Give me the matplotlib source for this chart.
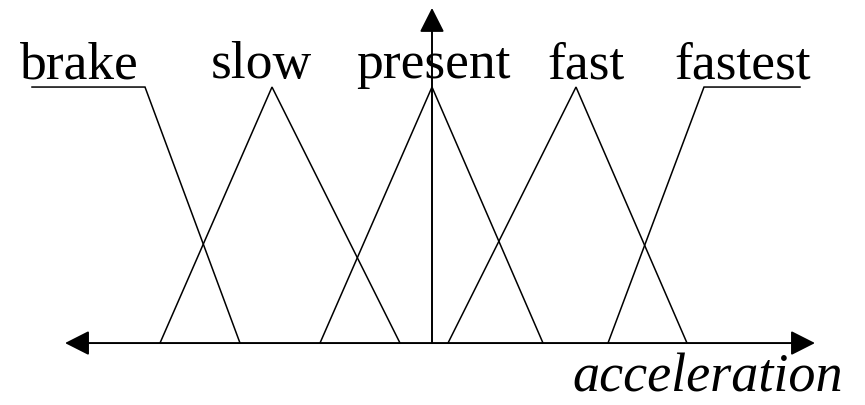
"""Funções de pertinência (fuzzy) da aceleração: brake, slow, present, fast, fastest."""

import matplotlib
matplotlib.use("Agg")
import matplotlib.pyplot as plt
from matplotlib.patches import FancyArrowPatch

plt.rcParams["font.family"] = ["Liberation Serif", "DejaVu Serif"]

# conjuntos fuzzy: pontos de quebra no eixo da aceleração e graus de pertinência
rotulos = ["brake", "slow", "present", "fast", "fastest"]
pontos_x = [
    [-400, -287, -192],
    [-272, -160, -32],
    [-112, 0, 111],
    [16, 144, 255],
    [176, 272, 368],
]
pontos_y = [
    [1, 1, 0],
    [0, 1, 0],
    [0, 1, 0],
    [0, 1, 0],
    [0, 1, 1],
]
pos_rotulos = [-353, -171, 1, 154, 311]

fig = plt.figure(figsize=(8.65, 4.05), dpi=100)
ax = fig.add_axes([0, 0, 1, 1])
ax.set_xlim(-432, 433)
ax.set_ylim(-0.242, 1.340)
ax.axis("off")

for xs, ys in zip(pontos_x, pontos_y):
    ax.plot(xs, ys, color="black", lw=1.1, solid_joinstyle="miter")

for nome, xr in zip(rotulos, pos_rotulos):
    ax.text(xr, 1.035, nome, ha="center", va="baseline", fontsize=38.5)

# eixos com setas
seta_x = FancyArrowPatch((-367, 0), (383, 0), arrowstyle="<|-|>,head_length=0.75,head_width=0.38",
                         mutation_scale=20, lw=1.4, color="black", shrinkA=0, shrinkB=0)
seta_y = FancyArrowPatch((0, 0), (0, 1.309), arrowstyle="-|>,head_length=0.75,head_width=0.38",
                         mutation_scale=20, lw=1.4, color="black", shrinkA=0, shrinkB=0)
ax.add_patch(seta_x)
ax.add_patch(seta_y)

ax.text(411, -0.19, "acceleration", ha="right", va="baseline", fontsize=39, style="italic")

fig.savefig("out.png", dpi=100)
